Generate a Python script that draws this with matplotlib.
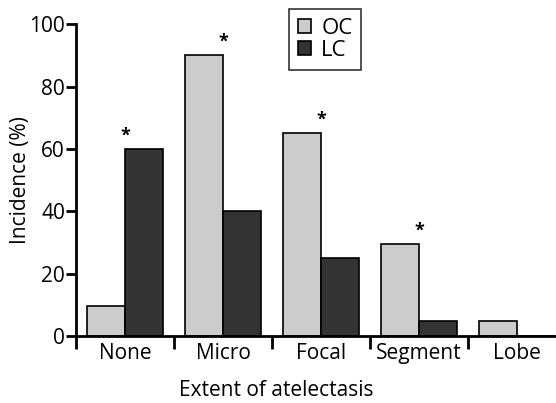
import numpy as np
import matplotlib
matplotlib.use("Agg")
import matplotlib.pyplot as plt

plt.rcParams.update({
    "font.family": ["Open Sans", "DejaVu Sans"],
    "font.size": 15,
})

# data
categories = ["None", "Micro", "Focal", "Segment", "Lobe"]
oc = [9.5, 90, 65, 29.5, 5]
lc = [60, 40, 25, 4.7, 0]
starred = [True, True, True, True, False]

fig = plt.figure(figsize=(5.56, 4.03), dpi=100)
ax = fig.add_axes([0.137, 0.166, 0.863, 0.774])

x = np.arange(len(categories))
w = 0.39

ax.bar(x - w / 2, oc, w, color="#cccccc", edgecolor="black", linewidth=1.2, label="OC")
ax.bar(x + w / 2, lc, w, color="#333333", edgecolor="black", linewidth=1.2, label="LC")

# significance stars
for i, s in enumerate(starred):
    if s:
        top = max(oc[i], lc[i])
        ax.text(x[i], top + 1.5, "*", ha="center", va="bottom", fontsize=13,
                fontweight="bold")

ax.set_xlim(-0.5, 4.4)
ax.set_ylim(0, 100)
ax.set_yticks([0, 20, 40, 60, 80, 100])

# ticks at category boundaries, labels at centres
ax.set_xticks(np.arange(-0.5, 4.0, 1.0))
ax.set_xticklabels([])
ax.set_xticks(x, minor=True)
ax.set_xticklabels(categories, minor=True)
ax.tick_params(axis="x", which="major", length=9, width=2, direction="out")
ax.tick_params(axis="x", which="minor", length=0, pad=5, labelsize=15)
ax.tick_params(axis="y", length=7, width=2, labelsize=15, pad=1)

for side in ["top", "right"]:
    ax.spines[side].set_visible(False)
for side in ["left", "bottom"]:
    ax.spines[side].set_linewidth(2)

ax.set_ylabel("Incidence (%)", fontsize=15)
ax.yaxis.set_label_coords(-0.094, 0.5)
ax.set_xlabel("Extent of atelectasis", fontsize=15)
ax.xaxis.set_label_coords(0.417, -0.14)

leg = fig.legend(loc="upper left", bbox_to_anchor=(289 / 556, 1 - 9 / 403),
                 frameon=True, fancybox=False, edgecolor="black",
                 fontsize=16, handlelength=0.6, handleheight=0.6,
                 handletextpad=0.45, borderpad=0.4, labelspacing=0.05,
                 borderaxespad=0)
leg.get_frame().set_linewidth(1.2)
leg._legend_box.align = "left"
for t in leg.get_texts():
    t.set_x(0)
leg.get_frame().set_boxstyle("square", pad=0)

fig.savefig("out.png", dpi=100)
